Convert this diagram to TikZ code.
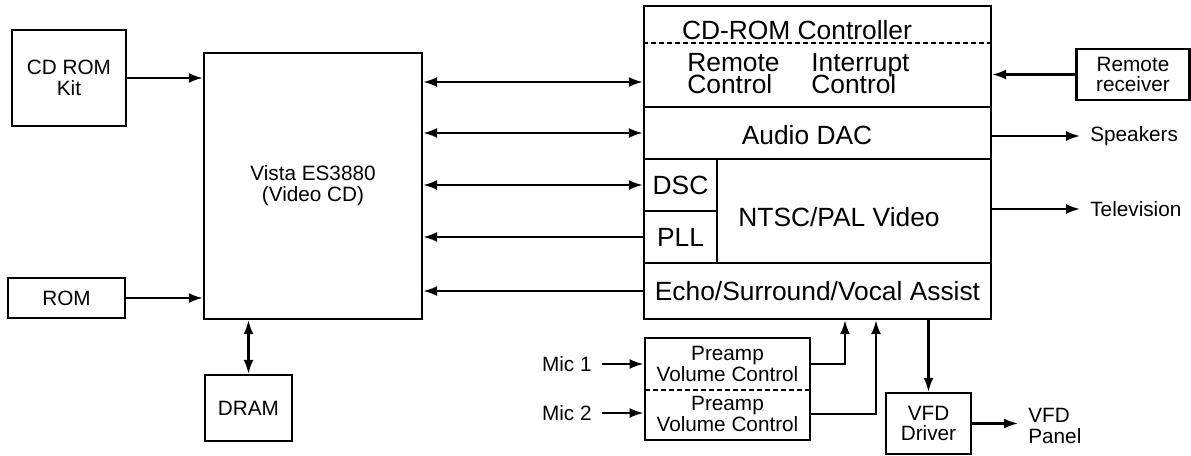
\documentclass[tikz,border=0pt]{standalone}
\usepackage{fontspec}
\setmainfont{Liberation Sans}
\usetikzlibrary{arrows.meta,positioning,fit}
\newcommand{\lblsize}{\fontsize{11.8}{11.8}\selectfont}
\newcommand{\compsize}{\fontsize{15}{12.8}\selectfont\lineskiplimit=-20pt}
\tikzset{
  blk/.style={draw,line width=1.4pt,inner sep=1pt,align=center,font=\lblsize},
  comp/.style={blk,font=\compsize},
  txt/.style={inner sep=0pt,align=left,font=\compsize},
  term/.style={inner xsep=0.2cm,inner ysep=0pt,align=left,font=\lblsize},
  arrow/.style={-{Latex[length=2.8mm,width=2mm]},line width=1.2pt},
  both/.style={{Latex[length=2.8mm,width=2mm]}-{Latex[length=2.8mm,width=2mm]},line width=1.2pt},
  divider/.style={dash pattern=on 0.1cm off 0.06cm,line width=1.2pt}
}

\begin{document}
\begin{tikzpicture}[x=0.02cm,y=-0.02cm]
  \useasboundingbox (0,0) rectangle (1191,456);
  % decoder and its memories
  \node[blk,minimum width=2.28cm,minimum height=1.92cm] (kit) at (69,78) {CD ROM\\Kit};
  \node[blk,minimum width=2.34cm,minimum height=0.8cm] (rom) at (66.5,298) {ROM};
  \node[blk,minimum width=4.36cm,minimum height=5.32cm] (vista) at (313,186) {Vista ES3880\\(Video CD)};
  \node[blk,minimum width=1.74cm,minimum height=1.32cm] (dram) at (248.5,408) {DRAM};
  % companion chip
  \node[blk,minimum width=6.94cm,minimum height=2.02cm] (ctrl) at (817.5,56.5) {};
  \node[blk,minimum width=6.94cm,minimum height=1.04cm] (dac) at (817.5,133) {};
  \node[comp,minimum width=1.46cm,minimum height=1.04cm] (dsc) at (680.5,185) {DSC};
  \node[comp,minimum width=1.46cm,minimum height=1.04cm] (pll) at (680.5,237) {PLL};
  \node[blk,minimum width=5.48cm,minimum height=2.08cm] (video) at (854,211) {};
  \node[comp,minimum width=6.94cm,minimum height=1.12cm] (echo) at (817.5,291) {Echo/Surround/Vocal Assist};
  \draw[divider] ([yshift=-0.76cm]ctrl.north west) -- ([yshift=-0.76cm]ctrl.north east);
  \node[txt] (ctrltxt) at (797,30) {CD-ROM Controller};
  \node[txt,anchor=north west] (remtxt) at (687,53) {Remote\\Control};
  \node[txt,anchor=north west] (inttxt) at (811,53) {Interrupt\\Control};
  \node[txt] (dactxt) at (807,135) {Audio DAC};
  \node[txt] (vidtxt) at (839,217) {NTSC/PAL Video};
  % outputs
  \node[blk,minimum width=2.26cm,minimum height=1.02cm] (recv) at (1133,74.5) {Remote\\receiver};
  \node[term,anchor=west] (spk) at (1080,136) {Speakers};
  \node[term,anchor=west] (tv) at (1080,209) {Television};
  % microphones and display
  \node[blk,draw=none,minimum width=3.26cm,minimum height=1cm] (pre1) at (727.5,364) {Preamp\\Volume Control};
  \node[blk,draw=none,minimum width=3.26cm,minimum height=1cm] (pre2) at (727.5,414) {Preamp\\Volume Control};
  \node[blk,fit=(pre1)(pre2),inner sep=0pt] (preamp) {};
  \draw[divider] (pre1.south west) -- (pre1.south east);
  \node[term,anchor=east] (mic1) at (602,364) {Mic 1};
  \node[term,anchor=east] (mic2) at (602,413) {Mic 2};
  \node[blk,minimum width=1.7cm,minimum height=1.22cm] (vfd) at (928.5,423.5) {VFD\\Driver};
  \node[term,anchor=west] (panel) at (1018,426) {VFD\\Panel};

  \draw[arrow] (kit.east) -- (kit.east -| vista.west);
  \draw[arrow] (rom.east) -- (rom.east -| vista.west);
  \draw[both] (dram.north) -- (dram.north |- vista.south);
  \draw[both] ([yshift=-0.51cm]ctrl.west) -- ([yshift=-0.51cm]ctrl.west -| vista.east);
  \draw[both] (dac.west) -- (dac.west -| vista.east);
  \draw[both] (dsc.west) -- (dsc.west -| vista.east);
  \draw[arrow] (pll.west) -- (pll.west -| vista.east);
  \draw[arrow] (echo.west) -- (echo.west -| vista.east);
  \draw[arrow] (recv.west) -- (recv.west -| ctrl.east);
  \draw[arrow] (dac.east |- spk.west) -- (spk.west);
  \draw[arrow] (video.east |- tv.west) -- (tv.west);
  \draw[arrow] (mic1.east) -- (mic1.east -| preamp.west);
  \draw[arrow] (mic2.east) -- (mic2.east -| preamp.west);
  \draw[arrow] (pre1.east) -| ([xshift=0.55cm]echo.south);
  \draw[arrow] (pre2.east) -| ([xshift=1.17cm]echo.south);
  \draw[arrow] (echo.south -| vfd.north) -- (vfd.north);
  \draw[arrow] (vfd.east) -- (vfd.east -| panel.west);
\end{tikzpicture}
\end{document}
